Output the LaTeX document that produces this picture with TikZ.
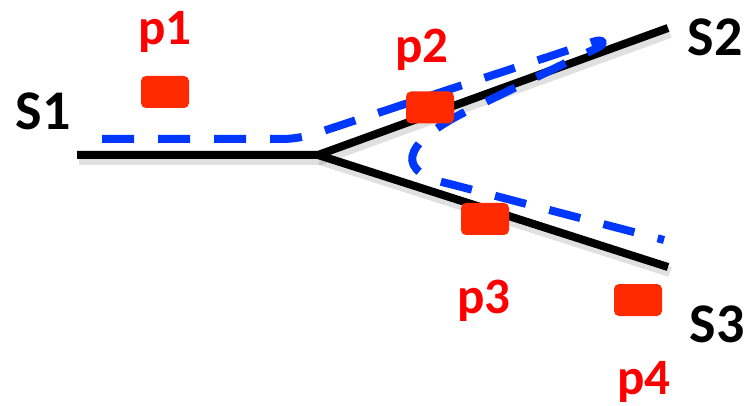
\documentclass[tikz,border=0pt]{standalone}
\usepackage{fontspec}
\setmainfont{Carlito}
\definecolor{boxred}{RGB}{255,42,0}
\definecolor{txtred}{RGB}{255,0,0}
\definecolor{pathblue}{RGB}{0,55,255}
\tikzset{
  track/.style={line width=8pt, black},
  trackshadow/.style={line width=10pt, black, opacity=0.12},
  flow/.style={line width=8pt, pathblue, dash pattern=on 32pt off 24pt, rounded corners=16pt},
  probe/.style={fill=boxred, draw=none, rounded corners=5pt, minimum width=48pt, minimum height=32pt, inner sep=0pt},
  plabel/.style={text=txtred, font=\bfseries\fontsize{51}{60}\selectfont, inner sep=0pt},
  slabel/.style={text=black, font=\bfseries\fontsize{56}{66}\selectfont, inner sep=0pt}
}
\begin{document}
\begin{tikzpicture}[x=1pt, y=-1pt]
\useasboundingbox (0,0) rectangle (747,406);
% track coordinates
\coordinate (a) at (77,155);
\coordinate (j) at (318,155);
\coordinate (b) at (668,28);
\coordinate (c) at (668,267);
% shadows
\draw[trackshadow] ([shift={(2,5)}]a) -- ([shift={(2,5)}]j) -- ([shift={(2,5)}]b);
\draw[trackshadow] ([shift={(2,5)}]j) -- ([shift={(2,5)}]c);
% tracks
\draw[track] (a) -- (j) -- (b);
\draw[track] (j) -- (c);
% blue dashed flow path
\coordinate (f0) at (102,139);
\coordinate (f1) at (299,139);
\coordinate (f2) at (578,47);
\coordinate (f3) at (582,55);
\coordinate (f4) at (465,112);
\coordinate (f5) at (450,184);
\coordinate (f6) at (664,240);
\draw[flow] (f0) -- (f1) -- (f2)
  .. controls (604,38) and (606,44) .. (f3)
  [sharp corners] -- (f4)
  .. controls (400,145) and (395,172) .. (f5) -- (f6);
% probes
\node[probe] (b1) at (165,92) {};
\node[probe] (b2) at (430,107.5) {};
\node[probe] (b3) at (485,219) {};
\node[probe] (b4) at (638,300) {};
% labels
\node[plabel] (p1) at (165,32) {p1};
\node[plabel] (p2) at (422,50) {p2};
\node[plabel] (p3) at (484,301) {p3};
\node[plabel] (p4) at (644,382) {p4};
\node[slabel] (s1) at (43,111) {S1};
\node[slabel] (s2) at (715,37) {S2};
\node[slabel] (s3) at (717,324) {S3};
\end{tikzpicture}
\end{document}
